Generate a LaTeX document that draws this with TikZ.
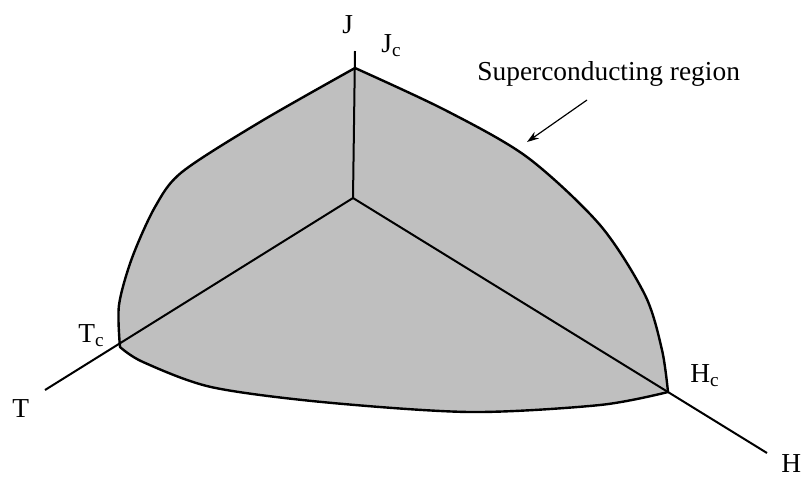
\documentclass[tikz,border=0pt]{standalone}
\usepackage{fontspec}
\setmainfont{Liberation Serif}
\usetikzlibrary{arrows.meta}

\begin{document}
\begin{tikzpicture}[x=0.5pt,y=-0.5pt,>={Stealth[length=6pt,width=4pt]},
    region/.style={fill=black!25,draw=black,line width=1.2pt,line join=round},
    axis/.style={line width=1pt},
    lbl/.style={anchor=base west,inner sep=0pt,font=\fontsize{13.7}{16}\selectfont}]
        \useasboundingbox (0,0) rectangle (802,478);

        \coordinate (o) at (353,198);
        \coordinate (jc) at (355,68);
        \coordinate (tc) at (120,347);
        \coordinate (hc) at (668,392);
        \coordinate (jend) at (355,51);
        \coordinate (tend) at (45,390);
        \coordinate (hend) at (767,453);

        % the region bounded by Jc, Tc and Hc
        \filldraw[region]
            plot[smooth] coordinates {(355,68) (445,110) (527,157)
                (600,225) (645,295) (662,350) (668,392)}
            -- plot[smooth] coordinates {(668,392) (600,405) (470,412)
                (322,402) (211,387) (143,362) (120,347)}
            -- plot[smooth] coordinates {(120,347) (119,305) (132,258)
                (155,207) (182,172) (260,122) (355,68)}
            -- cycle;

        \draw[axis] (jend) -- (o);
        \draw[axis] (o) -- (tend);
        \draw[axis] (o) -- (hend);

        \node[lbl] (lj) at (342,33) {J};
        \node[lbl] (ljc) at (381,52) {J\textsubscript{c}};
        \node[lbl] (lt) at (12,417) {T};
        \node[lbl] (ltc) at (78,342) {T\textsubscript{c}};
        \node[lbl] (lh) at (781,472) {H};
        \node[lbl] (lhc) at (690,382) {H\textsubscript{c}};

        \node[lbl] (lsc) at (477,80) {Superconducting region};
        \coordinate (atail) at (587,100);
        \coordinate (ahead) at (527,142);
        \draw[->,line width=0.6pt] (atail) -- (ahead);
\end{tikzpicture}
\end{document}
